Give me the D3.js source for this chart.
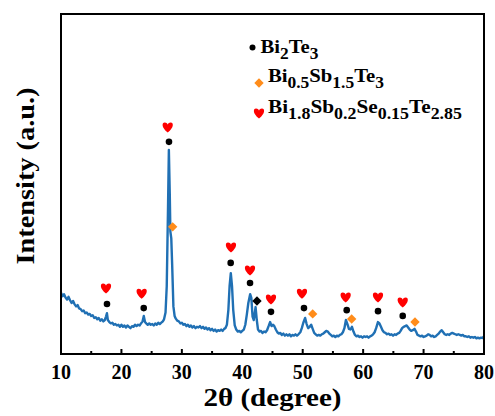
<!DOCTYPE html>
<html>
<head>
<meta charset="utf-8">
<script src="https://cdn.jsdelivr.net/npm/d3@7"></script>
<style>
  body { margin: 0; background: #fff; }
  svg { display: block; font-family: "Liberation Serif", "Times New Roman", serif; font-weight: bold; }
</style>
</head>
<body>
<div id="chart"></div>
<script>
// XRD pattern: [2theta, intensity (a.u.)]
var pattern = [
  [10.0,180],[10.25,170],[10.5,176],[10.75,166],[11.0,160],[11.25,168],[11.5,158],[11.75,150],[12.0,156],[12.25,146],
  [12.5,140],[12.75,144],[13.0,134],[13.25,132],[13.5,126],[13.75,128],[14.0,120],[14.25,122],[14.5,116],[14.75,118],
  [15.0,112],[15.25,114],[15.5,106],[15.75,108],[16.0,102],[16.25,106],[16.5,98],[16.75,102],[17.0,96],[17.25,100],
  [17.45,110],[17.6,120],[17.75,100],[18.0,94],[18.25,90],[18.5,92],[18.75,86],[19.0,88],[19.25,84],[19.5,86],
  [19.75,80],[20.0,86],[20.25,80],[20.5,84],[20.75,78],[21.0,84],[21.25,80],[21.5,76],[21.75,82],[22.0,80],
  [22.25,86],[22.5,82],[22.75,86],[23.0,84],[23.25,90],[23.5,96],[23.7,112],[23.9,94],[24.1,90],[24.35,86],
  [24.6,90],[24.85,86],[25.1,88],[25.35,84],[25.6,90],[25.85,86],[26.1,92],[26.35,88],[26.6,92],[26.85,96],
  [27.05,102],[27.3,122],[27.5,200],[27.7,420],[27.85,600],[28.0,470],[28.1,360],[28.25,340],[28.4,260],[28.6,140],
  [28.8,112],[29.0,104],[29.25,98],[29.5,96],[29.75,90],[30.0,92],[30.25,86],[30.5,88],[30.75,82],[31.0,86],
  [31.25,80],[31.5,84],[31.75,78],[32.0,82],[32.25,76],[32.5,80],[32.75,78],[33.0,82],[33.25,76],[33.5,80],
  [33.75,74],[34.0,78],[34.25,72],[34.5,76],[34.75,70],[35.0,74],[35.25,68],[35.5,72],[35.75,66],[36.0,70],
  [36.25,68],[36.5,72],[36.75,68],[37.0,74],[37.2,76],[37.45,86],[37.7,130],[37.9,200],[38.1,238],[38.3,200],
  [38.5,130],[38.75,84],[39.0,72],[39.25,66],[39.5,68],[39.75,64],[40.0,68],[40.25,72],[40.5,86],[40.75,116],
  [41.0,150],[41.3,176],[41.5,165],[41.7,110],[41.9,100],[42.2,138],[42.4,100],[42.6,72],[42.85,66],[43.1,68],
  [43.35,62],[43.6,66],[43.85,64],[44.1,70],[44.4,84],[44.6,94],[44.85,82],[45.1,86],[45.3,82],[45.55,72],
  [45.8,64],[46.05,60],[46.3,62],[46.55,56],[46.8,60],[47.05,54],[47.3,58],[47.55,54],[47.8,58],[48.05,52],
  [48.3,56],[48.55,54],[48.8,58],[49.05,54],[49.3,58],[49.6,64],[49.85,76],[50.1,92],[50.4,106],[50.65,88],
  [50.9,76],[51.15,80],[51.4,86],[51.65,74],[51.9,62],[52.15,58],[52.4,54],[52.65,56],[52.9,54],[53.15,58],
  [53.4,60],[53.65,64],[53.9,68],[54.15,66],[54.4,60],[54.65,56],[54.9,52],[55.15,54],[55.4,50],[55.65,54],
  [55.9,52],[56.15,56],[56.4,58],[56.65,64],[56.9,76],[57.15,100],[57.4,88],[57.65,74],[57.9,72],[58.15,80],
  [58.4,66],[58.65,56],[58.9,52],[59.15,54],[59.4,50],[59.65,52],[59.9,48],[60.15,52],[60.4,50],[60.65,52],
  [60.9,48],[61.15,52],[61.4,54],[61.65,58],[61.9,64],[62.15,76],[62.45,94],[62.7,90],[62.95,80],[63.2,70],
  [63.45,64],[63.7,62],[63.95,58],[64.2,60],[64.45,56],[64.7,58],[64.95,54],[65.2,58],[65.45,56],[65.7,60],
  [65.95,62],[66.2,68],[66.45,76],[66.7,80],[66.95,82],[67.2,84],[67.45,78],[67.7,72],[67.95,68],[68.2,70],
  [68.5,74],[68.75,66],[69.0,56],[69.25,54],[69.5,52],[69.75,54],[70.0,50],[70.25,52],[70.5,54],[70.75,58],
  [71.0,56],[71.25,52],[71.5,54],[71.75,50],[72.0,52],[72.25,56],[72.5,60],[72.75,66],[73.0,70],[73.25,64],
  [73.5,58],[73.75,56],[74.0,58],[74.25,56],[74.5,60],[74.75,62],[75.0,60],[75.25,58],[75.5,56],[75.75,58],
  [76.0,56],[76.25,54],[76.5,56],[76.75,52],[77.0,52],[77.25,50],[77.5,52],[77.75,48],[78.0,50],[78.25,48],
  [78.5,50],[78.75,46],[79.0,48],[79.25,46],[79.5,48],[79.75,47],[80.0,52]
];

// peak markers: position and height of each symbol
var heartX = [17.45,23.35,27.66,38.13,41.28,44.75,49.88,57.11,62.46,66.55];
var heartY = [191,176,665,312,244,159,176,165,165,150];
var dotX = [17.61,23.69,27.87,38.08,41.28,44.75,50.21,57.28,62.46,66.55];
var dotY = [147,135,624,268,209,124,135,129,126,112];
var orangeX = [28.48,51.65,58.1,68.58];
var orangeY = [374,118,103,94];
var blackDiamondX = [42.43];
var blackDiamondY = [156];

var xTicks = [10,20,30,40,50,60,70,80];
var xMinorTicks = [15,25,35,45,55,65,75];

var width = 495, height = 416;
var margin = {left: 61, right: 11, top: 14, bottom: 62};
var blue = "#2070b4", orange = "#ff8c1a", red = "#ff0000";

var svg = d3.select("#chart").append("svg")
  .attr("width", width)
  .attr("height", height);

var x = d3.scaleLinear().domain([10, 80]).range([margin.left, width - margin.right]);
var y = d3.scaleLinear().domain([0, 1000]).range([height - margin.bottom, margin.top]);

// curve
var line = d3.line()
  .x(function (d) { return x(d[0]); })
  .y(function (d) { return y(d[1]); });

svg.append("path")
  .datum(pattern)
  .attr("fill", "none")
  .attr("stroke", blue)
  .attr("stroke-width", 2.4)
  .attr("stroke-linejoin", "round")
  .attr("d", line);

// heart symbol, centred on 0,0
function heartPath(s) {
  return "M0," + (4.5*s) +
    " C" + (-6.5*s) + "," + (-0.5*s) + " " + (-6*s) + "," + (-5.5*s) + " " + (-3*s) + "," + (-5.5*s) +
    " C" + (-1.2*s) + "," + (-5.5*s) + " 0," + (-4.2*s) + " 0," + (-3.2*s) +
    " C0," + (-4.2*s) + " " + (1.2*s) + "," + (-5.5*s) + " " + (3*s) + "," + (-5.5*s) +
    " C" + (6*s) + "," + (-5.5*s) + " " + (6.5*s) + "," + (-0.5*s) + " 0," + (4.5*s) + " Z";
}
// diamond = square turned 45 degrees
var diamond = d3.symbol().type(d3.symbolSquare).size(44);

svg.selectAll(".heart")
  .data(heartX)
  .enter().append("path")
  .attr("class", "heart")
  .attr("transform", function (d, i) { return "translate(" + x(d) + "," + y(heartY[i]) + ")"; })
  .attr("d", heartPath(1))
  .attr("fill", red);

svg.selectAll(".dot")
  .data(dotX)
  .enter().append("circle")
  .attr("class", "dot")
  .attr("cx", function (d) { return x(d); })
  .attr("cy", function (d, i) { return y(dotY[i]); })
  .attr("r", 3.3)
  .attr("fill", "#000");

svg.selectAll(".odiamond")
  .data(orangeX)
  .enter().append("path")
  .attr("class", "odiamond")
  .attr("transform", function (d, i) { return "translate(" + x(d) + "," + y(orangeY[i]) + ") rotate(45)"; })
  .attr("d", diamond)
  .attr("fill", orange);

svg.selectAll(".bdiamond")
  .data(blackDiamondX)
  .enter().append("path")
  .attr("class", "bdiamond")
  .attr("transform", function (d, i) { return "translate(" + x(d) + "," + y(blackDiamondY[i]) + ") rotate(45)"; })
  .attr("d", diamond)
  .attr("fill", "#000");

// frame
svg.append("rect")
  .attr("x", margin.left)
  .attr("y", margin.top)
  .attr("width", width - margin.left - margin.right)
  .attr("height", height - margin.top - margin.bottom)
  .attr("fill", "none")
  .attr("stroke", "#000")
  .attr("stroke-width", 2);

// bottom ticks, pointing in
var yb = height - margin.bottom;
svg.selectAll(".major")
  .data(xTicks.slice(1, -1))
  .enter().append("line")
  .attr("x1", function (d) { return x(d); })
  .attr("x2", function (d) { return x(d); })
  .attr("y1", yb)
  .attr("y2", yb - 5)
  .attr("stroke", "#000")
  .attr("stroke-width", 2);
svg.selectAll(".minor")
  .data(xMinorTicks)
  .enter().append("line")
  .attr("x1", function (d) { return x(d); })
  .attr("x2", function (d) { return x(d); })
  .attr("y1", yb)
  .attr("y2", yb - 3)
  .attr("stroke", "#000")
  .attr("stroke-width", 2);

svg.selectAll(".tlabel")
  .data(xTicks)
  .enter().append("text")
  .attr("x", function (d) { return x(d); })
  .attr("y", 379)
  .attr("text-anchor", "middle")
  .style("font-size", "20px")
  .text(function (d) { return d; });

// axis titles
svg.append("text")
  .attr("x", (margin.left + width - margin.right) / 2)
  .attr("y", 406)
  .attr("text-anchor", "middle")
  .attr("textLength", 138)
  .attr("lengthAdjust", "spacingAndGlyphs")
  .style("font-size", "25px")
  .text("2θ (degree)");

svg.append("text")
  .attr("transform", "translate(34,176) rotate(-90)")
  .attr("text-anchor", "middle")
  .attr("textLength", 177)
  .attr("lengthAdjust", "spacingAndGlyphs")
  .style("font-size", "26px")
  .text("Intensity (a.u.)");

// legend
var legendRows = [
  {parts: [["Bi",0],["2",1],["Te",0],["3",1]], base: 53, tx: 260.5, len: 58},
  {parts: [["Bi",0],["0.5",1],["Sb",0],["1.5",1],["Te",0],["3",1]], base: 82, tx: 268, len: 116},
  {parts: [["Bi",0],["1.8",1],["Sb",0],["0.2",1],["Se",0],["0.15",1],["Te",0],["2.85",1]], base: 113, tx: 268, len: 194}
];

legendRows.forEach(function (row) {
  var t = svg.append("text")
    .attr("x", row.tx)
    .attr("y", row.base)
    .attr("textLength", row.len)
    .attr("lengthAdjust", "spacingAndGlyphs");
  row.parts.forEach(function (p) {
    t.append("tspan")
      .attr("y", row.base + (p[1] ? 6 : 0))
      .style("font-size", p[1] ? "16px" : "19px")
      .text(p[0]);
  });
});

svg.append("circle").attr("cx", 252.5).attr("cy", 47.5).attr("r", 3).attr("fill", "#000");
svg.append("path").attr("transform", "translate(259,83) rotate(45)").attr("d", diamond).attr("fill", orange);
svg.append("path").attr("transform", "translate(259,114)").attr("d", heartPath(1)).attr("fill", red);
</script>
</body>
</html>
